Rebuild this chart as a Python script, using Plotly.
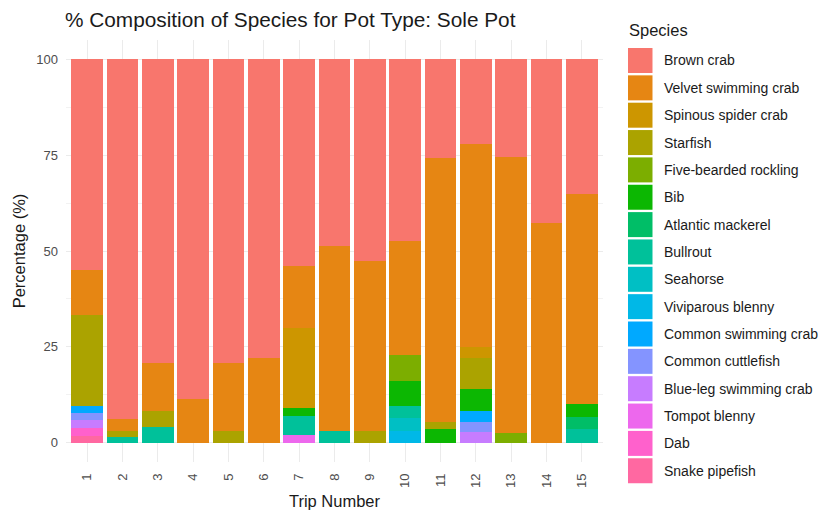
import plotly.graph_objects as go

# ---- data: percentage composition per trip (Sole Pot) ----
trips = [str(i) for i in range(1, 16)]

species = [
    "Brown crab", "Velvet swimming crab", "Spinous spider crab", "Starfish",
    "Five-bearded rockling", "Bib", "Atlantic mackerel", "Bullrout", "Seahorse",
    "Viviparous blenny", "Common swimming crab", "Common cuttlefish",
    "Blue-leg swimming crab", "Tompot blenny", "Dab", "Snake pipefish",
]

brown_crab = [55.0, 93.8, 79.2, 88.5, 79.2, 77.8, 53.9, 48.7, 52.6, 47.4, 25.7, 22.2, 25.4, 42.7, 35.2]
velvet_swimming_crab = [11.7, 3.1, 12.5, 11.5, 17.6, 22.2, 16.2, 48.2, 44.3, 29.7, 68.8, 52.8, 72.1, 57.3, 54.6]
spinous_spider_crab = [0, 0, 0, 0, 0, 0, 20.9, 0, 0, 0, 0, 2.8, 0, 0, 0]
starfish = [23.6, 1.6, 4.1, 0, 3.2, 0, 0, 0, 3.1, 0, 1.9, 8.3, 0, 0, 0]
five_bearded_rockling = [0, 0, 0, 0, 0, 0, 0, 0, 0, 6.7, 0, 0, 2.5, 0, 0]
bib = [0, 0, 0, 0, 0, 0, 2.1, 0, 0, 6.5, 3.6, 5.6, 0, 0, 3.5]
atlantic_mackerel = [0, 0, 0, 0, 0, 0, 0, 0, 0, 0, 0, 0, 0, 0, 3.2]
bullrout = [0, 1.5, 4.2, 0, 0, 0, 4.8, 3.1, 0, 3.2, 0, 0, 0, 0, 3.5]
seahorse = [0, 0, 0, 0, 0, 0, 0, 0, 0, 3.3, 0, 0, 0, 0, 0]
viviparous_blenny = [0, 0, 0, 0, 0, 0, 0, 0, 0, 3.2, 0, 0, 0, 0, 0]
common_swimming_crab = [2.0, 0, 0, 0, 0, 0, 0, 0, 0, 0, 0, 2.8, 0, 0, 0]
common_cuttlefish = [1.8, 0, 0, 0, 0, 0, 0, 0, 0, 0, 0, 2.7, 0, 0, 0]
blue_leg_swimming_crab = [2.1, 0, 0, 0, 0, 0, 0, 0, 0, 0, 0, 2.8, 0, 0, 0]
tompot_blenny = [0, 0, 0, 0, 0, 0, 2.1, 0, 0, 0, 0, 0, 0, 0, 0]
dab = [2.0, 0, 0, 0, 0, 0, 0, 0, 0, 0, 0, 0, 0, 0, 0]
snake_pipefish = [1.8, 0, 0, 0, 0, 0, 0, 0, 0, 0, 0, 0, 0, 0, 0]

series = [
    brown_crab, velvet_swimming_crab, spinous_spider_crab, starfish,
    five_bearded_rockling, bib, atlantic_mackerel, bullrout, seahorse,
    viviparous_blenny, common_swimming_crab, common_cuttlefish,
    blue_leg_swimming_crab, tompot_blenny, dab, snake_pipefish,
]

y_ticks = [0, 25, 50, 75, 100]

# ---- styling ----
colors = [
    "#F8766D", "#E68613", "#CD9600", "#ABA300", "#7CAE00", "#0CB702",
    "#00BE67", "#00C19A", "#00BFC4", "#00B8E7", "#00A9FF", "#8494FF",
    "#C77CFF", "#ED68ED", "#FF61CC", "#FF68A1",
]

FONT = "Liberation Sans, Arial, sans-serif"
WIDTH, HEIGHT = 818, 513
ML, MR, MT, MB = 66, 215, 40, 51
PW = WIDTH - ML - MR
PH = HEIGHT - MT - MB


def px_x(px):
    return (px - ML) / PW


def px_y(py):
    return (HEIGHT - MB - py) / PH


fig = go.Figure()

# first species sits on top of each stack, so add them bottom-up
for name, color, vals in reversed(list(zip(species, colors, series))):
    fig.add_trace(go.Bar(
        x=trips, y=vals, name=name,
        marker=dict(color=color, line=dict(width=0)),
        showlegend=False,
        hovertemplate=name + "<br>Trip %{x}: %{y:.1f}%<extra></extra>",
    ))

# legend drawn as keys + labels at the right side
shapes = []
annotations = [dict(
    text="Species", x=px_x(627), y=px_y(30), xref="paper", yref="paper",
    xanchor="left", yanchor="middle", showarrow=False,
    font=dict(family=FONT, size=16.5, color="#1a1a1a"),
)]
for i, (name, color) in enumerate(zip(species, colors)):
    cy = 60.5 + i * 27.35
    shapes.append(dict(
        type="rect", xref="paper", yref="paper",
        x0=px_x(628), x1=px_x(652.5), y0=px_y(cy - 12.5), y1=px_y(cy + 12.5),
        fillcolor=color, line=dict(width=0), layer="above",
    ))
    annotations.append(dict(
        text=name, x=px_x(662), y=px_y(cy), xref="paper", yref="paper",
        xanchor="left", yanchor="middle", showarrow=False,
        font=dict(family=FONT, size=14, color="#1a1a1a"),
    ))

fig.update_layout(
    width=WIDTH, height=HEIGHT,
    margin=dict(l=ML, r=MR, t=MT, b=MB, autoexpand=False),
    barmode="stack", bargap=0.1,
    plot_bgcolor="white", paper_bgcolor="white",
    font=dict(family=FONT, color="#1a1a1a"),
    title=dict(
        text="% Composition of Species for Pot Type: Sole Pot",
        x=65 / WIDTH, xanchor="left", xref="container",
        y=1 - 20 / HEIGHT, yanchor="middle", yref="container",
        font=dict(family=FONT, size=20.8, color="#1a1a1a"),
    ),
    shapes=shapes,
    annotations=annotations,
    showlegend=False,
)

fig.update_xaxes(
    type="category", categoryorder="array", categoryarray=trips,
    range=[-0.6, 14.6], tickangle=-90,
    showgrid=True, gridcolor="#EBEBEB", gridwidth=1,
    zeroline=False, showline=False, ticks="", ticklabelstandoff=8,
    tickfont=dict(family=FONT, size=13, color="#4D4D4D"),
    title=dict(text="Trip Number", standoff=8,
               font=dict(family=FONT, size=16.5, color="#1a1a1a")),
    automargin=False,
)
fig.update_yaxes(
    range=[-5, 105], tickvals=y_ticks, ticktext=[str(v) for v in y_ticks],
    showgrid=True, gridcolor="#EBEBEB", gridwidth=1,
    minor=dict(tickvals=[12.5, 37.5, 62.5, 87.5], showgrid=True,
               gridcolor="#F2F2F2", gridwidth=0.8),
    zeroline=False, showline=False, ticks="", ticklabelstandoff=7,
    tickfont=dict(family=FONT, size=13, color="#4D4D4D"),
    title=dict(text="Percentage (%)", standoff=6,
               font=dict(family=FONT, size=16.5, color="#1a1a1a")),
    automargin=False,
)

fig.write_html("out.html")
